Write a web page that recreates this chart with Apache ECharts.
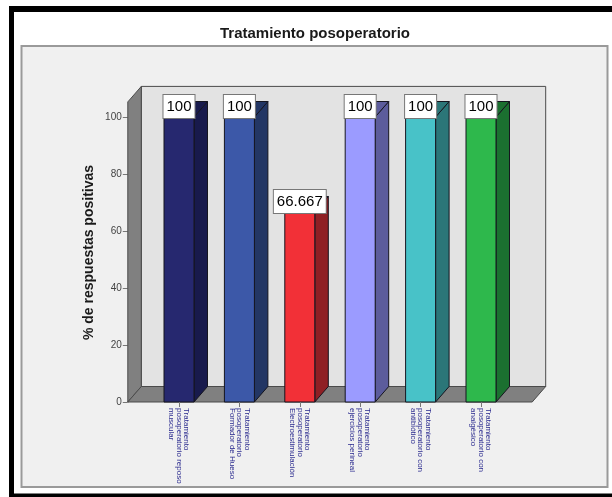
<!DOCTYPE html>
<html>
<head>
<meta charset="utf-8">
<style>html,body{margin:0;padding:0;background:#fff}#chart{width:612px;height:497px}</style>
<script src="https://cdn.jsdelivr.net/npm/echarts@6/dist/echarts.min.js"></script>
</head>
<body>
<div id="chart"></div>
<script>
const categories = [
  'Tratamiento\nposoperatorio reposo\nmuscular',
  'Tratamiento\nposoperatorio\nFormador de Hueso',
  'Tratamiento\nposoperatorio\nElectroestimulación',
  'Tratamiento\nposoperatorio\nejercicios perineal',
  'Tratamiento\nposoperatorio con\nantibiótico',
  'Tratamiento\nposoperatorio con\nanalgésico'
];
const values = [100, 100, 66.667, 100, 100, 100];
const barColors = ['#26286f', '#3c58a8', '#f23037', '#9b9bff', '#48c2c8', '#2eb84c'];
const sideColors = ['#181a4c', '#233664', '#8f1f24', '#5c5c9c', '#2b7678', '#1b7030'];

// Pseudo-3D extrusion, in pixels, plus the height of the walls in axis units
const DEPTH_X = 13.5, DEPTH_Y = 15.5, WALL_OVERHANG = 21, BAR_WIDTH = 30;
const WALL_TOP = 105.3;
const FONT = '"Liberation Sans", Arial, sans-serif';

function renderWalls(params, api) {
  const cs = params.coordSys;
  const x0 = cs.x - WALL_OVERHANG, x1 = cs.x + cs.width + WALL_OVERHANG;
  const yBase = api.coord([0, 0])[1], yTop = api.coord([0, WALL_TOP])[1];
  const edge = { stroke: '#4a4a4a', lineWidth: 1 };
  const poly = (points, fill) => ({
    type: 'polygon', shape: { points }, style: Object.assign({ fill }, edge)
  });
  return {
    type: 'group',
    children: [
      poly([[x0 + DEPTH_X, yTop - DEPTH_Y], [x1 + DEPTH_X, yTop - DEPTH_Y], [x1 + DEPTH_X, yBase - DEPTH_Y], [x0 + DEPTH_X, yBase - DEPTH_Y]], '#e3e3e3'),
      poly([[x0, yBase], [x0 + DEPTH_X, yBase - DEPTH_Y], [x0 + DEPTH_X, yTop - DEPTH_Y], [x0, yTop]], '#808080'),
      poly([[x0, yBase], [x1, yBase], [x1 + DEPTH_X, yBase - DEPTH_Y], [x0 + DEPTH_X, yBase - DEPTH_Y]], '#808080')
    ]
  };
}

function renderBar(params, api) {
  const idx = api.value(0), val = api.value(1);
  const top = api.coord([idx, val]), base = api.coord([idx, 0]);
  const l = top[0] - BAR_WIDTH / 2, r = top[0] + BAR_WIDTH / 2;
  const edge = { stroke: '#15151f', lineWidth: 1 };
  const poly = (points, fill) => ({
    type: 'polygon', shape: { points }, style: Object.assign({ fill }, edge)
  });
  return {
    type: 'group',
    children: [
      poly([[r, top[1]], [r + DEPTH_X, top[1] - DEPTH_Y], [r + DEPTH_X, base[1] - DEPTH_Y], [r, base[1]]], sideColors[idx]),
      poly([[l, top[1]], [l + DEPTH_X, top[1] - DEPTH_Y], [r + DEPTH_X, top[1] - DEPTH_Y], [r, top[1]]], sideColors[idx]),
      poly([[l, top[1]], [r, top[1]], [r, base[1]], [l, base[1]]], barColors[idx]),
      {
        type: 'text',
        style: {
          x: top[0], y: top[1] + 1,
          text: String(val),
          align: 'center', verticalAlign: 'bottom',
          font: '15px ' + FONT, fill: '#000',
          backgroundColor: '#fff', borderColor: '#777', borderWidth: 1,
          padding: [4, 3, 4, 3]
        }
      }
    ]
  };
}

const chart = echarts.init(document.getElementById('chart'));
chart.setOption({
  animation: false,
  backgroundColor: '#fff',
  title: {
    text: 'Tratamiento posoperatorio',
    left: 315, top: 26, padding: 0, textAlign: 'center',
    textStyle: { fontFamily: FONT, fontSize: 15, fontWeight: 'bold', color: '#1a1a1a' }
  },
  graphic: [
    { type: 'rect', z: 0, shape: { x: 9, y: 6, width: 603, height: 6 }, style: { fill: '#000' } },
    { type: 'rect', z: 0, shape: { x: 9, y: 6, width: 5, height: 491 }, style: { fill: '#000' } },
    { type: 'rect', z: 0, shape: { x: 9, y: 493.5, width: 603, height: 3.5 }, style: { fill: '#000' } },
    { type: 'rect', z: 0, shape: { x: 21.5, y: 46, width: 586, height: 441 }, style: { fill: '#f0f0f0', stroke: '#9a9a9a', lineWidth: 2 } }
  ],
  grid: { left: 148.8, top: 117, width: 362.4, height: 285, containLabel: false },
  xAxis: {
    type: 'category',
    data: categories,
    axisLine: { show: false },
    axisTick: { show: true, alignWithLabel: true, length: 5, lineStyle: { color: '#777' } },
    axisLabel: {
      interval: 0, rotate: -90, margin: 6,
      fontFamily: FONT, fontSize: 8, lineHeight: 7.5, color: '#2b2b8f'
    },
    z: 6
  },
  yAxis: {
    type: 'value', min: 0, max: 100, interval: 20,
    offset: 21,
    name: '% de respuestas positivas',
    nameLocation: 'middle', nameGap: 32, nameMoveOverlap: false,
    nameTextStyle: { fontFamily: FONT, fontSize: 14, fontWeight: 'bold', color: '#1a1a1a', padding: [0, 0, 0, 14] },
    axisLine: { show: true, lineStyle: { color: '#777' } },
    axisTick: { show: true, length: 5, lineStyle: { color: '#777' } },
    axisLabel: { fontFamily: FONT, fontSize: 10, color: '#444', margin: 6 },
    splitLine: { show: false }
  },
  series: [
    { type: 'custom', z: 2, silent: true, renderItem: renderWalls, data: [[0, 0]], encode: { x: 0, y: 1 } },
    { type: 'custom', z: 3, silent: true, renderItem: renderBar, data: values.map((v, i) => [i, v]), encode: { x: 0, y: 1 } }
  ]
});
</script>
</body>
</html>
